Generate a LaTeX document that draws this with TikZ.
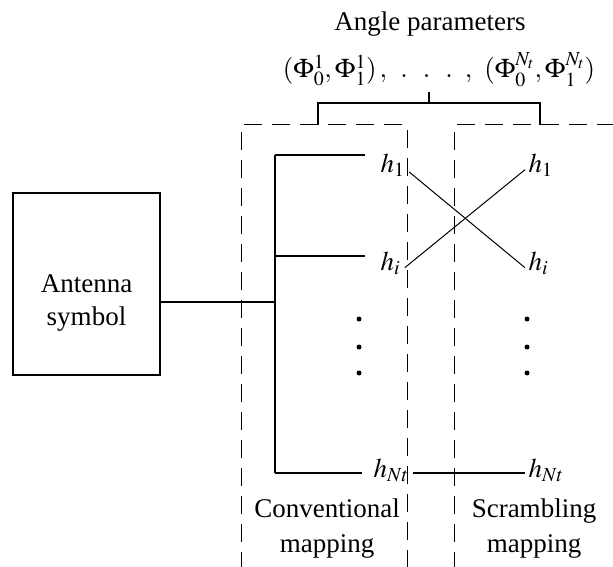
\documentclass[tikz,border=0pt]{standalone}
\usepackage{mathptmx}
\usepackage[no-math]{fontspec}
\setmainfont{Liberation Serif}
\usetikzlibrary{calc}

\begin{document}
\begin{tikzpicture}[x=1pt,y=-1pt,line width=1.2pt,
		font=\fontsize{27}{34}\selectfont,
		grp/.style={line width=1pt,dash pattern=on 18pt off 10pt},
		hl/.style={anchor=base west,inner xsep=4pt,inner ysep=0pt},
		hr/.style={anchor=base west,inner xsep=3pt,inner ysep=0pt},
		txt/.style={anchor=base,inner sep=0pt}]
		\useasboundingbox (0,0) rectangle (613,567);
		
		\node[txt] (ap) at (430,31) {Angle parameters};
		\node[txt] (phi) at (439,78) {$(\Phi_0^1,\Phi_1^1)\,{,}\mkern9mu.\mkern10mu.\mkern10mu.\mkern8mu{,}\mkern8mu(\Phi_0^{N_t},\Phi_1^{N_t})$};
		
		\node[draw,minimum width=147pt,minimum height=182pt] (box) at (86.5,284) {};
		\node[txt] (ant1) at (86.5,292) {Antenna};
		\node[txt] (ant2) at (86.5,325) {symbol};
		
		\node[hl] (hl1) at (376,172) {$h_1$};
		\node[hl] (hli) at (376,270) {$h_i$};
		\node[hl] (hln) at (369,477) {$h_{Nt}$};
		\node[hr] (hr1) at (525,172) {$h_1$};
		\node[hr] (hri) at (525,270) {$h_i$};
		\node[hr] (hrn) at (525,477) {$h_{Nt}$};
		
		\node[txt] (cv1) at (327,517) {Conventional};
		\node[txt] (cv2) at (327,552) {mapping};
		\node[txt] (sc1) at (534,517) {Scrambling};
		\node[txt] (sc2) at (534,552) {mapping};
		
		\coordinate (b1) at (275,155);
		\coordinate (bi) at (275,256);
		\coordinate (ba) at (275,302);
		\coordinate (bn) at (275,473);
		\coordinate (e1) at (365,155);
		\coordinate (ei) at (365,256);
		\coordinate (en) at (362,473);
		
		% dashed groups
		\draw[grp] (241,570) -- (241,125) -- (407,125) -- (407,570);
		\draw[grp] (454,570) -- (454,125) -- (616,125);
		
		% bracket to the angle parameters
		\coordinate (brk) at (429,103);
		\draw (318,125) -- (318,103) -- (540,103) -- (540,125);
		\draw (brk) -- (429,92);
		
		\draw (box.east |- ba) -- (ba);
		\draw (b1) -- (bn);
		\draw (b1) -- (e1);
		\draw (bi) -- (ei);
		\draw (bn) -- (en);
		
		\draw[line width=1pt] (hl1.base east) -- (hri.mid west);
		\draw[line width=1pt] (hli.mid east) -- (hr1.mid west);
		\draw (bn -| hln.east) -- (bn -| hrn.west);
		
		\foreach \y in {319,347,373} {
			\fill (359,\y) circle (2.5pt);
			\fill (527,\y) circle (2.5pt);
		}
	\end{tikzpicture}
\end{document}
